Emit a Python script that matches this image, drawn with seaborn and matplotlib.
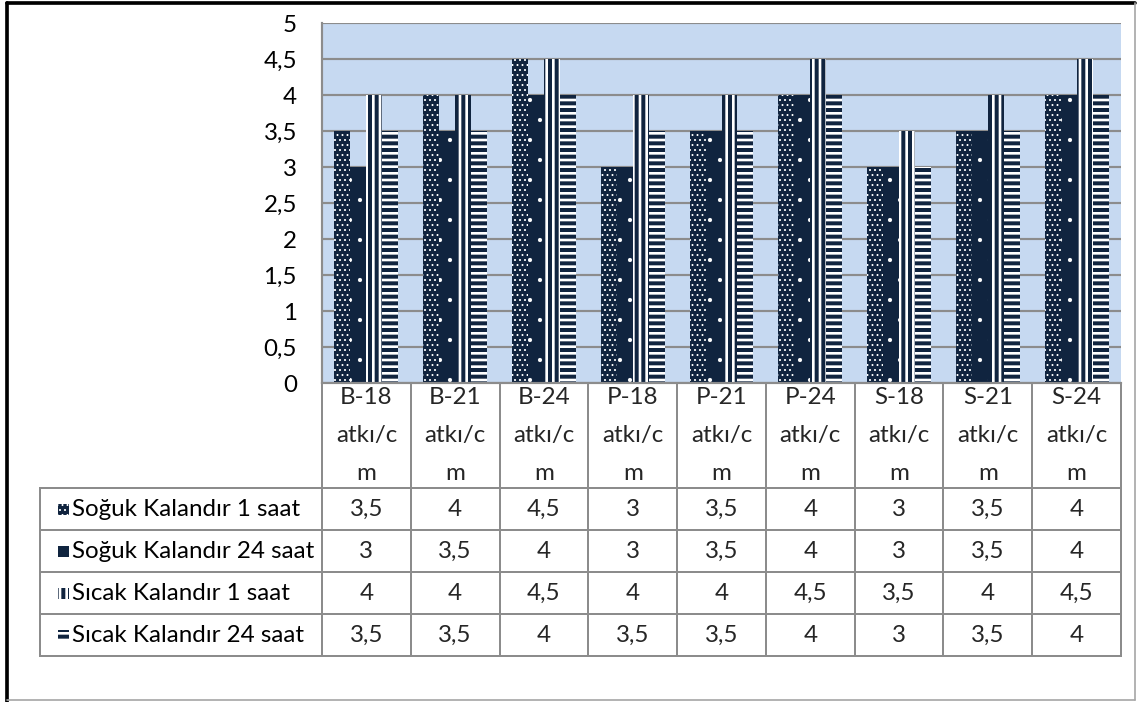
import numpy as np
import pandas as pd
import matplotlib
matplotlib.use("Agg")
import matplotlib.pyplot as plt
import seaborn as sns
from matplotlib.patches import Rectangle
from matplotlib.lines import Line2D
from matplotlib.table import Table

# ---------------- data ----------------
categories = ["B-18 atkı/cm", "B-21 atkı/cm", "B-24 atkı/cm",
              "P-18 atkı/cm", "P-21 atkı/cm", "P-24 atkı/cm",
              "S-18 atkı/cm", "S-21 atkı/cm", "S-24 atkı/cm"]
header_labels = ["B-18\natkı/c\nm", "B-21\natkı/c\nm", "B-24\natkı/c\nm",
                 "P-18\natkı/c\nm", "P-21\natkı/c\nm", "P-24\natkı/c\nm",
                 "S-18\natkı/c\nm", "S-21\natkı/c\nm", "S-24\natkı/c\nm"]
series_names = ["Soğuk Kalandır 1 saat", "Soğuk Kalandır 24 saat",
                "Sıcak Kalandır 1 saat", "Sıcak Kalandır 24 saat"]
soguk_1 = [3.5, 4, 4.5, 3, 3.5, 4, 3, 3.5, 4]
soguk_24 = [3, 3.5, 4, 3, 3.5, 4, 3, 3.5, 4]
sicak_1 = [4, 4, 4.5, 4, 4, 4.5, 3.5, 4, 4.5]
sicak_24 = [3.5, 3.5, 4, 3.5, 3.5, 4, 3, 3.5, 4]
y_ticks = [0, 0.5, 1, 1.5, 2, 2.5, 3, 3.5, 4, 4.5, 5]

series_values = [soguk_1, soguk_24, sicak_1, sicak_24]

def fmt(v):
    return f"{v:g}".replace(".", ",")

# ---------------- style ----------------
sns.set_style("white")
FONT = ["Lato", "DejaVu Sans"]
plt.rcParams["font.family"] = FONT
plt.rcParams["hatch.linewidth"] = 2.4
FS = 14.5
FS_TICK = 14.5

NAVY = "#10243F"
PLOT_BG = "#C6D9F1"
GRID = "#8C8C8C"
TABLE_EDGE = "#8C8C8C"

bar_styles = [
    dict(face=NAVY, hatch="....", hcolor="white", hlw=0.6),
    dict(face=NAVY, hatch=".", hcolor="white", hlw=0.1),
    dict(face="white", hatch="|||", hcolor=NAVY, hlw=2.4),
    dict(face="white", hatch="---", hcolor=NAVY, hlw=2.4),
]

W, H, DPI = 1137, 702, 120
fig = plt.figure(figsize=(W / DPI, H / DPI), dpi=DPI)
fig.patch.set_facecolor("white")

ax_l, ax_r, ax_t, ax_b = 322, 1121, 23, 383
ax = fig.add_axes([ax_l / W, 1 - ax_b / H, (ax_r - ax_l) / W, (ax_b - ax_t) / H])

df = pd.DataFrame({
    "category": categories * len(series_names),
    "series": np.repeat(series_names, len(categories)),
    "value": np.concatenate(series_values),
})

sns.barplot(data=df, x="category", y="value", hue="series",
            order=categories, hue_order=series_names,
            width=0.72, gap=0, dodge=True, legend=False, ax=ax,
            errorbar=None)


def style_patch(p, st):
    p.set_facecolor(st["face"])
    p.set_edgecolor(st["hcolor"])
    p.set_linewidth(0)
    p.set_hatch(st["hatch"])
    if hasattr(p, "set_hatch_linewidth"):
        p.set_hatch_linewidth(st["hlw"])


for cont, st in zip(ax.containers, bar_styles):
    for p in cont:
        style_patch(p, st)

ax.set_facecolor(PLOT_BG)
ax.set_xlim(-0.5, len(categories) - 0.5)
ax.set_ylim(0, 5)
ax.set_yticks(y_ticks)
ax.set_yticklabels([fmt(v) for v in y_ticks], fontsize=FS_TICK, color="black")
ax.tick_params(axis="y", length=0, pad=15)
ax.set_xticks([])
ax.set_xlabel("")
ax.set_ylabel("")
ax.yaxis.grid(True, color=GRID, linewidth=1.3)
ax.set_axisbelow(True)
for s in ["top", "right"]:
    ax.spines[s].set_visible(False)
for s in ["left", "bottom"]:
    ax.spines[s].set_color(GRID)
    ax.spines[s].set_linewidth(1.3)

# ---------------- data table ----------------
tab_l, tab_b = 40, 656
header_h, row_h = 105, 42
ax_w, ax_h = ax_r - ax_l, ax_b - ax_t
label_w = (ax_l - tab_l) / ax_w
col_w = 1.0 / len(categories)
hdr_h = header_h / ax_h
r_h = row_h / ax_h

tbl = Table(ax, loc=None,
            bbox=[0, -(tab_b - ax_b) / ax_h, 1, (tab_b - ax_b) / ax_h])
for j, lab in enumerate(header_labels):
    c = tbl.add_cell(0, j, width=col_w, height=hdr_h, text=lab, loc="center")
    c.get_text().set_linespacing(2.0)
for i, (name, vals) in enumerate(zip(series_names, series_values)):
    tbl.add_cell(i + 1, -1, width=label_w, height=r_h, text="", loc="left")
    for j, v in enumerate(vals):
        tbl.add_cell(i + 1, j, width=col_w, height=r_h, text=fmt(v), loc="center")
tbl.auto_set_font_size(False)
tbl.set_fontsize(FS)
for (r, c), cell in tbl.get_celld().items():
    cell.set_edgecolor(TABLE_EDGE)
    cell.set_linewidth(1.2)
    cell.get_text().set_fontsize(FS)
    cell.get_text().set_family(FONT)
ax.add_table(tbl)

# row labels with legend swatches
for i, (name, st) in enumerate(zip(series_names, bar_styles)):
    cy = ax_b + header_h + row_h * i + row_h / 2
    y_ax = (ax_b - cy) / ax_h
    sw = 11
    rect = Rectangle(((58 - ax_l) / ax_w, y_ax - (sw / 2) / ax_h),
                     sw / ax_w, sw / ax_h, transform=ax.transAxes,
                     clip_on=False)
    style_patch(rect, st)
    ax.add_patch(rect)
    ax.text((72 - ax_l) / ax_w, y_ax, name, transform=ax.transAxes,
            ha="left", va="center", fontsize=FS, family=FONT, color="black")

# ---------------- outer frame ----------------
fig.add_artist(Line2D([7 / W, 7 / W], [0, 1 - 3 / H], color="black", lw=2.2,
                      transform=fig.transFigure))
fig.add_artist(Line2D([7 / W, 1 - 2 / W], [1 - 3 / H, 1 - 3 / H], color="black",
                      lw=2.2, transform=fig.transFigure))
fig.add_artist(Line2D([1 - 2 / W, 1 - 2 / W], [2 / H, 1 - 3 / H], color="#A6A6A6",
                      lw=1, transform=fig.transFigure))
fig.add_artist(Line2D([7 / W, 1 - 2 / W], [2 / H, 2 / H], color="#A6A6A6",
                      lw=1, transform=fig.transFigure))

fig.savefig("out.png", dpi=DPI, facecolor="white")
